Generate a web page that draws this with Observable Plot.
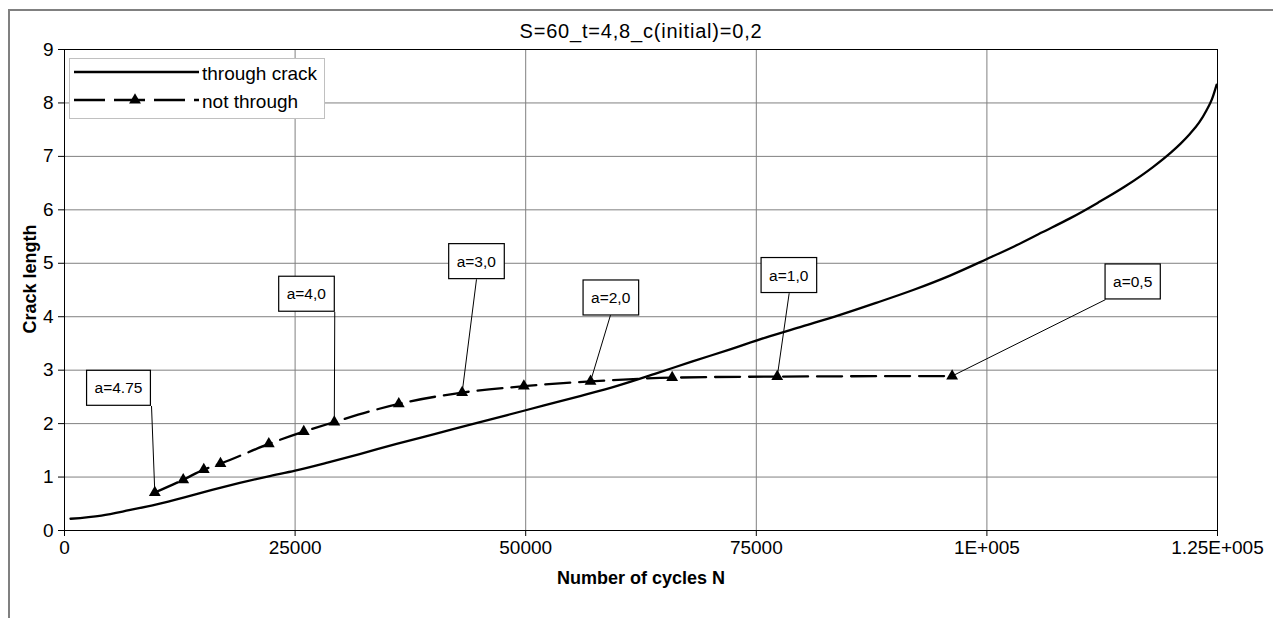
<!DOCTYPE html>
<html><head><meta charset="utf-8">
<script src="https://cdn.jsdelivr.net/npm/d3@7"></script>
<script src="https://cdn.jsdelivr.net/npm/@observablehq/plot@0.6"></script>
<style>
body{margin:0;background:#fff;font-family:"Liberation Sans",Arial,sans-serif;}
#wrap{position:relative;width:1273px;height:618px;overflow:hidden;background:#fff}
#wrap > svg{position:absolute;left:0;top:0}
#frame{position:absolute;left:8px;top:9px;width:1300px;height:700px;border-left:2px solid #808080;border-top:2px solid #808080;pointer-events:none}
</style></head><body><div id="wrap"><div id="frame"></div></div>
<script>
// ---- data ----
const chartTitle = "S=60_t=4,8_c(initial)=0,2";
const xLabel = "Number of cycles N";
const yLabel = "Crack length";
const seriesNames = ["through crack", "not through"];

const throughN = [650, 4000, 7000, 10000, 13000, 16000, 19000, 22000, 25000, 28500, 32000, 36000, 40000, 44000, 48000, 52000, 56000, 60000, 64000, 68000, 72000, 76000, 80000, 84000, 88000, 92000, 96000, 100000, 103000, 106000, 109000, 112000, 115000, 118000, 120000, 121000, 122000, 123000, 123800, 124400, 124900];
const throughA = [0.22, 0.28, 0.38, 0.49, 0.62, 0.76, 0.89, 1.01, 1.12, 1.27, 1.43, 1.62, 1.80, 1.98, 2.16, 2.34, 2.52, 2.71, 2.93, 3.16, 3.38, 3.61, 3.82, 4.03, 4.26, 4.50, 4.77, 5.08, 5.32, 5.58, 5.84, 6.13, 6.44, 6.80, 7.08, 7.24, 7.42, 7.63, 7.86, 8.07, 8.34];

const notN = [9790, 12870, 15100, 16910, 22150, 25940, 29250, 36240, 43110, 49800, 57030, 65880, 77270, 96230];
const notA = [0.71, 0.95, 1.14, 1.25, 1.62, 1.85, 2.03, 2.37, 2.58, 2.70, 2.79, 2.86, 2.88, 2.89];

const annLabels = ["a=4.75", "a=4,0", "a=3,0", "a=2,0", "a=1,0", "a=0,5"];
const annPoint  = [0, 6, 8, 10, 12, 13];           // index into not-through series
const annLabelN = [5854, 26215, 44645, 59213, 78512, 115804];
const annLabelA = [2.66, 4.42, 5.03, 4.35, 4.77, 4.65];
const annLeadN  = [9432, 29300, 44665, 59193, 78565, 112858];
const annLeadA  = [2.33, 4.09, 4.70, 4.03, 4.44, 4.32];

const xTicks = [0, 25000, 50000, 75000, 100000, 125000];
const xTickLabels = ["0", "25000", "50000", "75000", "1E+005", "1.25E+005"];
const yTicks = [0, 1, 2, 3, 4, 5, 6, 7, 8, 9];

// ---- tables ----
const through = throughN.map((n, i) => ({n, a: throughA[i]}));
const notThrough = notN.map((n, i) => ({n, a: notA[i]}));
const ann = annLabels.map((label, i) => ({
  label, lx: annLabelN[i], ly: annLabelA[i], sx: annLeadN[i], sy: annLeadA[i],
  px: notN[annPoint[i]], py: notA[annPoint[i]]
}));

const FONT = '"Liberation Sans", Arial, sans-serif';

const chart = Plot.plot({
  width: 1273, height: 618,
  marginLeft: 64, marginRight: 56, marginTop: 49, marginBottom: 88,
  style: {fontFamily: FONT, fontSize: "19px", color: "#000", background: "transparent"},
  x: {domain: [0, 125000]},
  y: {domain: [0, 9]},
  marks: [
    Plot.gridX(xTicks, {stroke: "#808080", strokeOpacity: 1, strokeWidth: 1}),
    Plot.gridY(yTicks, {stroke: "#808080", strokeOpacity: 1, strokeWidth: 1}),
    Plot.frame({stroke: "#000", strokeWidth: 1}),
    Plot.line(through, {x: "n", y: "a", stroke: "#000", strokeWidth: 2.3, curve: "monotone-x"}),
    Plot.line(notThrough, {x: "n", y: "a", stroke: "#000", strokeWidth: 2.3, strokeDasharray: "25,9", curve: "monotone-x"}),
    Plot.dot(notThrough, {x: "n", y: "a", symbol: "triangle", r: 4.4, fill: "#000", stroke: "none"}),
    Plot.link(ann, {x1: "sx", y1: "sy", x2: "px", y2: "py", stroke: "#000", strokeWidth: 1}),
    Plot.text(ann, {x: "lx", y: "ly", text: "label", fontSize: 15.5, fill: "#000"}),
    Plot.axisX(xTicks, {tickSize: 6, tickPadding: 4, label: null, fontSize: 19,
      tickFormat: d => xTickLabels[xTicks.indexOf(d)]}),
    Plot.axisY(yTicks, {tickSize: 6, tickPadding: 5, label: null, fontSize: 19, tickFormat: d => String(d)}),
    Plot.text([chartTitle], {frameAnchor: "top", lineAnchor: "middle", dy: -18, fontSize: 20, fill: "#000"}),
    Plot.text([xLabel], {frameAnchor: "bottom", lineAnchor: "middle", dy: 48, fontSize: 18, fontWeight: "bold", fill: "#000"}),
    Plot.text([yLabel], {frameAnchor: "left", textAnchor: "middle", lineAnchor: "middle", dx: -34, dy: -11, rotate: -90, fontSize: 18, fontWeight: "bold", fill: "#000"})
  ]
});

const wrap = document.getElementById("wrap");
wrap.insertBefore(chart, document.getElementById("frame"));

// boxes behind annotation labels + title spacing
d3.select(chart).selectAll("text").each(function() {
  const t = this.textContent;
  if (t === chartTitle) { this.style.letterSpacing = "0.8px"; }
  if (annLabels.includes(t)) {
    const bb = this.getBBox();
    const w = bb.width + 16, h = 35;
    const cx = bb.x + bb.width / 2, cy = bb.y + bb.height / 2;
    const r = document.createElementNS("http://www.w3.org/2000/svg", "rect");
    r.setAttribute("x", cx - w / 2);
    r.setAttribute("y", cy - h / 2);
    r.setAttribute("width", w);
    r.setAttribute("height", h);
    r.setAttribute("fill", "#fff");
    r.setAttribute("stroke", "#000");
    r.setAttribute("stroke-width", "1.2");
    const tr = this.getAttribute("transform");
    if (tr) r.setAttribute("transform", tr);
    this.parentNode.insertBefore(r, this);
  }
});

// legend (inside the plot area, top-left)
const leg = d3.select(wrap).append("svg")
  .attr("width", 1273).attr("height", 618)
  .style("position", "absolute").style("left", "0px").style("top", "0px")
  .style("pointer-events", "none");
leg.append("rect").attr("x", 69.5).attr("y", 58.5).attr("width", 255).attr("height", 60)
  .attr("fill", "#fff").attr("stroke", "#c0c0c0").attr("stroke-width", 1);
const rowsY = [72, 100];
seriesNames.forEach((name, i) => {
  const y = rowsY[i];
  leg.append("line").attr("x1", 74).attr("x2", 199).attr("y1", y).attr("y2", y)
    .attr("stroke", "#000").attr("stroke-width", 2.3)
    .attr("stroke-dasharray", i === 1 ? "31,9" : null);
  if (i === 1) {
    leg.append("path").attr("d", d3.symbol(d3.symbolTriangle, 4.4 * 4.4 * Math.PI)())
      .attr("transform", `translate(135,${y})`).attr("fill", "#000");
  }
  leg.append("text").attr("x", 202).attr("y", y + 1).attr("dominant-baseline", "central")
    .style("font-family", FONT).style("font-size", "19px").attr("fill", "#000").text(name);
});
</script>
</body></html>
